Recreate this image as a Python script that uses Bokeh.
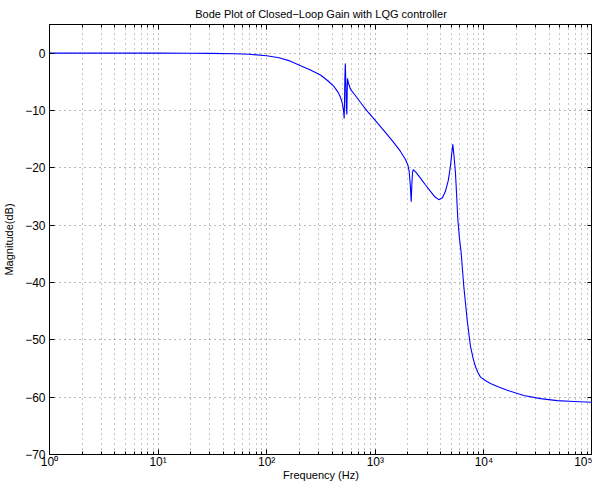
from bokeh.plotting import figure
from bokeh.models import LogAxis, LinearAxis, FixedTicker, ColumnDataSource
from bokeh.embed import file_html
from bokeh.resources import INLINE

# Frequency (Hz) and magnitude (dB)
freq = [1, 3, 10, 20, 30, 50, 70, 100, 130, 160, 205, 250, 313, 370, 415, 450, 478,
        495, 506, 512, 517, 520, 525, 530, 535, 541, 547, 551, 555, 565, 591, 650,
        731, 850, 1040, 1250, 1480, 1700, 1897, 2000, 2050, 2100, 2140, 2170, 2200,
        2233, 2350, 2606, 2900, 3221, 3550, 3843, 4150, 4426, 4700, 4922, 5050, 5172,
        5300, 5472, 5600, 5754, 5957, 6180, 6530, 7015, 7530, 8000, 8375, 8800, 9310,
        10300, 11500, 13500, 16400, 23300, 33200, 47300, 67300, 100000]
mag_db = [0.0, 0.0, 0.0, -0.02, -0.04, -0.1, -0.2, -0.45, -0.8, -1.3, -2.2, -2.9,
          -3.8, -4.9, -5.8, -6.7, -7.7, -8.6, -9.6, -10.4, -11.4, -9.0, -4.0, -1.8,
          -5.0, -9.5, -10.7, -6.5, -4.4, -5.2, -6.3, -7.3, -8.6, -10.2, -12.1, -13.9,
          -15.6, -17.1, -18.55, -19.6, -20.6, -23.0, -25.9, -23.0, -20.9, -20.3, -20.7,
          -21.8, -23.0, -24.1, -25.1, -25.55, -25.2, -24.1, -22.2, -19.7, -17.6, -15.9,
          -17.8, -20.9, -24.5, -29.0, -32.3, -34.9, -40.7, -46.55, -51.2, -53.4, -54.7,
          -55.7, -56.5, -57.1, -57.6, -58.2, -58.8, -59.7, -60.25, -60.6, -60.75, -60.9]

x_major = [1, 10, 100, 1000, 10000, 100000]
x_labels = ["10\u2070", "10\u00b9", "10\u00b2", "10\u00b3", "10\u2074", "10\u2075"]
y_major = [0, -10, -20, -30, -40, -50, -60, -70]
y_labels = ["0", "\u221210", "\u221220", "\u221230", "\u221240", "\u221250", "\u221260", "\u221270"]

FONT = "Liberation Sans"

src = ColumnDataSource(dict(f=freq, m=mag_db))

p = figure(width=592, height=483, x_axis_type="log", x_range=(1, 1e5), y_range=(-70, 5),
           output_backend="svg", toolbar_location=None,
           min_border_left=41, min_border_right=0, min_border_top=0, min_border_bottom=0)

p.title.text = "Bode Plot of Closed\u2212Loop Gain with LQG controller"
p.title.align = "center"
p.title.text_font = FONT
p.title.text_font_size = "11px"
p.title.text_font_style = "normal"
p.title.text_color = "black"

minor = [k * 10 ** d for d in range(5) for k in range(2, 10)]
xt = FixedTicker(ticks=x_major, minor_ticks=minor)
yt = FixedTicker(ticks=y_major, minor_ticks=[])

p.xaxis.ticker = xt
p.yaxis.ticker = yt
p.xaxis.major_label_overrides = {float(v): s for v, s in zip(x_major, x_labels)}
p.yaxis.major_label_overrides = {float(v): s for v, s in zip(y_major, y_labels)}

for ax in (p.xaxis, p.yaxis):
    ax.major_tick_in = 5
    ax.major_tick_out = 0
    ax.minor_tick_in = 3
    ax.minor_tick_out = 0
    ax.axis_line_color = "black"
    ax.major_tick_line_color = "black"
    ax.minor_tick_line_color = "black"
    ax.major_label_text_font = FONT
    ax.major_label_text_font_size = "12px"
    ax.major_label_text_color = "black"
    ax.axis_label_text_font = FONT
    ax.axis_label_text_font_size = "11px"
    ax.axis_label_text_font_style = "normal"
    ax.axis_label_text_color = "black"

p.xaxis.axis_label = "Frequency (Hz)"
p.yaxis.axis_label = "Magnitude(dB)"
p.xaxis.major_label_standoff = 0
p.xaxis.axis_label_standoff = -3
p.yaxis.major_label_standoff = 4
p.yaxis.axis_label_standoff = 7
p.yaxis.minor_tick_line_color = None

# ticks on top and right (box)
top = LogAxis(ticker=xt, major_tick_in=5, major_tick_out=0, minor_tick_in=3, minor_tick_out=0,
              major_label_text_font_size="1px", major_label_text_color=None,
              major_label_standoff=0, axis_line_color="black")
right = LinearAxis(ticker=yt, major_tick_in=5, major_tick_out=0, minor_tick_line_color=None,
                   major_label_text_font_size="1px", major_label_text_color=None,
                   major_label_standoff=0, axis_line_color="black")
p.add_layout(top, "above")
p.add_layout(right, "right")

p.outline_line_color = "black"
p.outline_line_width = 1

for g in (p.xgrid, p.ygrid):
    g.grid_line_color = "black"
    g.grid_line_alpha = 0.55
    g.grid_line_dash = "1 4"
p.xgrid.minor_grid_line_color = "black"
p.xgrid.minor_grid_line_alpha = 0.45
p.xgrid.minor_grid_line_dash = "1 4"

p.line("f", "m", source=src, line_color="#0000ff", line_width=1.1)

open("out.html", "w").write(file_html(p, INLINE))
